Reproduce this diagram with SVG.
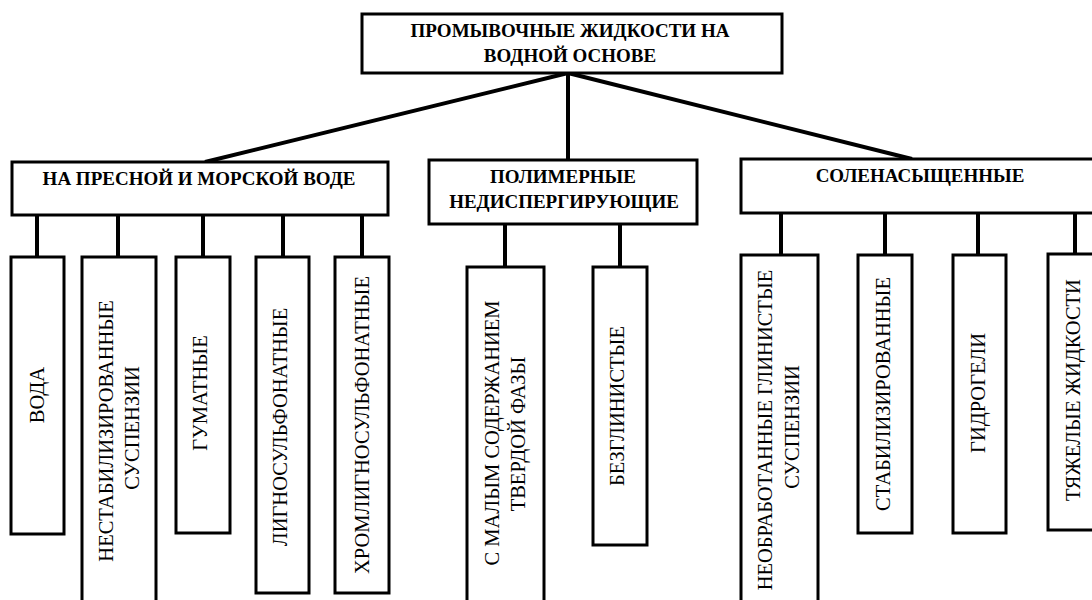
<svg xmlns="http://www.w3.org/2000/svg" width="1092" height="600" viewBox="0 0 1092 600">
<style>
.box{fill:#fff;stroke:#000;stroke-width:3}
.ln{stroke:#000;stroke-width:4;fill:none}
.hb{font-family:"Liberation Serif","Times New Roman",serif;font-weight:bold;font-size:19px;text-anchor:middle;fill:#000}
.lf{font-family:"Liberation Serif","Times New Roman",serif;font-size:20.5px;text-anchor:middle;fill:#000}
</style>
<rect width="1092" height="600" fill="#fff"/>
<g id="connectors">
<line class="ln" x1="568" y1="73" x2="205" y2="162"/>
<line class="ln" x1="568" y1="73" x2="568" y2="160"/>
<line class="ln" x1="568" y1="73" x2="912" y2="159"/>
<line class="ln" x1="37" y1="215" x2="37" y2="257"/>
<line class="ln" x1="118" y1="215" x2="118" y2="257"/>
<line class="ln" x1="203" y1="215" x2="203" y2="257"/>
<line class="ln" x1="283" y1="215" x2="283" y2="257"/>
<line class="ln" x1="362" y1="215" x2="362" y2="257"/>
<line class="ln" x1="505" y1="224" x2="505" y2="267"/>
<line class="ln" x1="620" y1="224" x2="620" y2="267"/>
<line class="ln" x1="781" y1="213" x2="781" y2="255"/>
<line class="ln" x1="885" y1="213" x2="885" y2="255"/>
<line class="ln" x1="978" y1="213" x2="978" y2="255"/>
<line class="ln" x1="1075" y1="213" x2="1075" y2="254"/>
</g>
<g id="root">
<rect class="box" x="362" y="14" width="420" height="59"/>
<text class="hb" x="570" y="37">ПРОМЫВОЧНЫЕ ЖИДКОСТИ НА</text>
<text class="hb" x="570" y="62">ВОДНОЙ ОСНОВЕ</text>
</g>
<g id="fresh">
<rect class="box" x="12" y="162" width="376" height="53"/>
<text class="hb" x="199" y="185">НА ПРЕСНОЙ И МОРСКОЙ ВОДЕ</text>
</g>
<g id="polymer">
<rect class="box" x="429" y="160" width="268" height="64"/>
<text class="hb" x="563" y="183">ПОЛИМЕРНЫЕ</text>
<text class="hb" x="564" y="208">НЕДИСПЕРГИРУЮЩИЕ</text>
</g>
<g id="salt">
<rect class="box" x="741" y="159" width="360" height="54"/>
<text class="hb" x="920" y="182">СОЛЕНАСЫЩЕННЫЕ</text>
</g>
<g id="voda">
<rect class="box" x="11" y="257" width="53" height="277"/>
<text class="lf" transform="translate(37,395) rotate(-90)" x="0" y="7">ВОДА</text>
</g>
<g id="nestab">
<rect class="box" x="82" y="257" width="74" height="360"/>
<text class="lf" transform="translate(106,431) rotate(-90)" x="0" y="7">НЕСТАБИЛИЗИРОВАННЫЕ</text>
<text class="lf" transform="translate(132,428) rotate(-90)" x="0" y="7">СУСПЕНЗИИ</text>
</g>
<g id="gumat">
<rect class="box" x="176" y="257" width="54" height="276"/>
<text class="lf" transform="translate(200,393) rotate(-90)" x="0" y="7">ГУМАТНЫЕ</text>
</g>
<g id="ligno">
<rect class="box" x="256" y="257" width="53" height="336"/>
<text class="lf" transform="translate(280,427) rotate(-90)" x="0" y="7">ЛИГНОСУЛЬФОНАТНЫЕ</text>
</g>
<g id="chrom">
<rect class="box" x="335" y="257" width="54" height="336"/>
<text class="lf" transform="translate(362,425) rotate(-90)" x="0" y="7">ХРОМЛИГНОСУЛЬФОНАТНЫЕ</text>
</g>
<g id="malym">
<rect class="box" x="467" y="267" width="77" height="350"/>
<text class="lf" transform="translate(492,433) rotate(-90)" x="0" y="7">С МАЛЫМ СОДЕРЖАНИЕМ</text>
<text class="lf" transform="translate(518,434) rotate(-90)" x="0" y="7">ТВЕРДОЙ ФАЗЫ</text>
</g>
<g id="bezglin">
<rect class="box" x="593" y="267" width="54" height="278"/>
<text class="lf" transform="translate(617,406) rotate(-90)" x="0" y="7">БЕЗГЛИНИСТЫЕ</text>
</g>
<g id="neobr">
<rect class="box" x="741" y="255" width="77" height="360"/>
<text class="lf" transform="translate(765,430) rotate(-90)" x="0" y="7">НЕОБРАБОТАННЫЕ ГЛИНИСТЫЕ</text>
<text class="lf" transform="translate(792,427) rotate(-90)" x="0" y="7">СУСПЕНЗИИ</text>
</g>
<g id="stab">
<rect class="box" x="858" y="255" width="54" height="278"/>
<text class="lf" transform="translate(883,394) rotate(-90)" x="0" y="7">СТАБИЛИЗИРОВАННЫЕ</text>
</g>
<g id="gidro">
<rect class="box" x="953" y="255" width="53" height="278"/>
<text class="lf" transform="translate(978,393) rotate(-90)" x="0" y="7">ГИДРОГЕЛИ</text>
</g>
<g id="tyazh">
<rect class="box" x="1048" y="254" width="60" height="276"/>
<text class="lf" transform="translate(1073,390) rotate(-90)" x="0" y="7">ТЯЖЕЛЫЕ ЖИДКОСТИ</text>
</g>
</svg>
